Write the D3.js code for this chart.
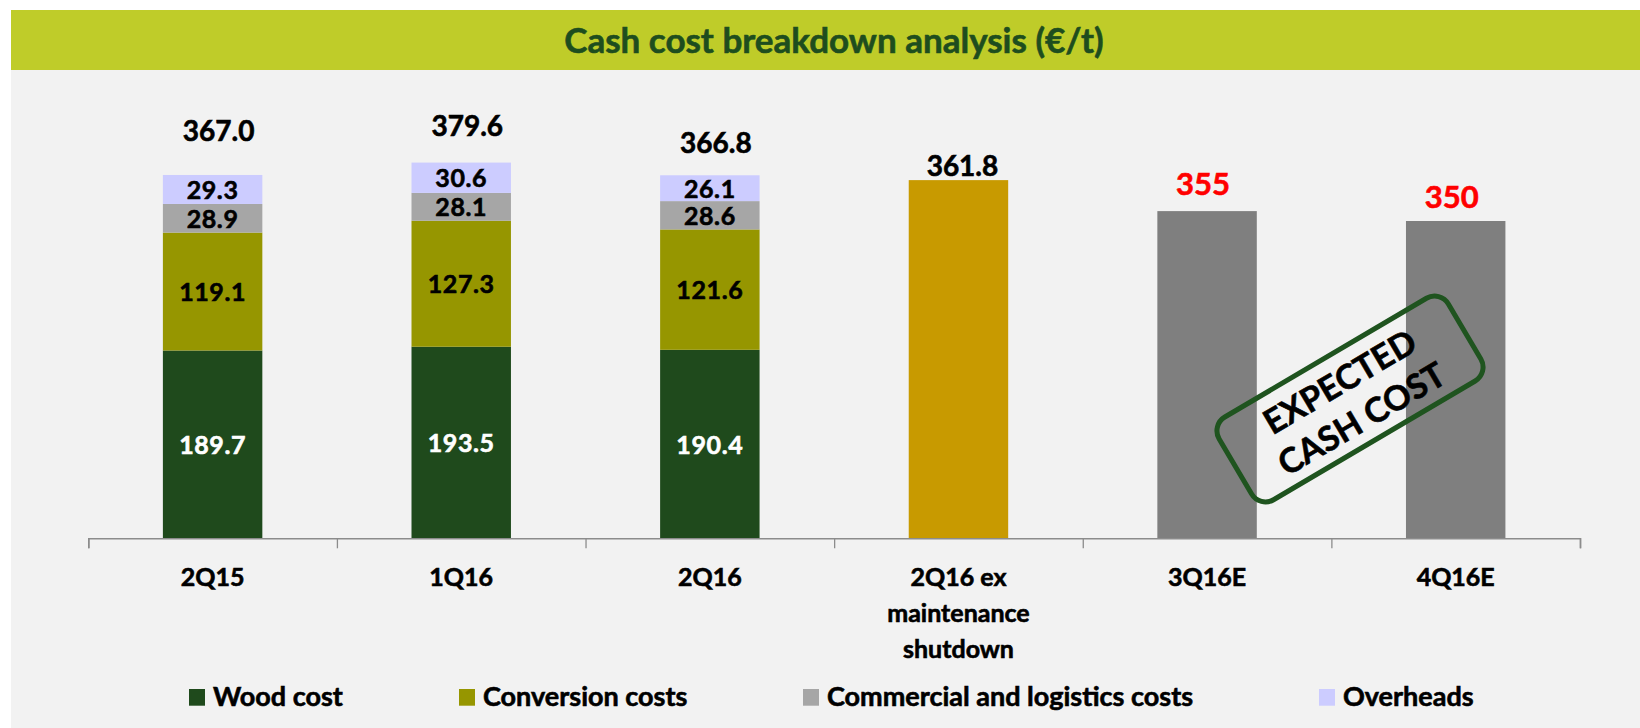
<!DOCTYPE html>
<html>
<head>
<meta charset="utf-8">
<script src="https://cdn.jsdelivr.net/npm/d3@7"></script>
<style>
  html, body { margin: 0; padding: 0; background: #ffffff; }
  svg { display: block; }
  text { font-family: Lato, "Open Sans", sans-serif; font-weight: 700; }
</style>
</head>
<body>
<svg id="chart" width="1640" height="728"></svg>
<script>
// ---------------- data ----------------
const categories = ["2Q15", "1Q16", "2Q16", "2Q16 ex maintenance shutdown", "3Q16E", "4Q16E"];
const categoryLines = [["2Q15"], ["1Q16"], ["2Q16"], ["2Q16 ex", "maintenance", "shutdown"], ["3Q16E"], ["4Q16E"]];
const stackedCategories = ["2Q15", "1Q16", "2Q16"];
const woodCost = [189.7, 193.5, 190.4];
const conversionCosts = [119.1, 127.3, 121.6];
const commercialLogistics = [28.9, 28.1, 28.6];
const overheads = [29.3, 30.6, 26.1];
const totalLabels = ["367.0", "379.6", "366.8"];
const exMaintenanceCategory = "2Q16 ex maintenance shutdown";
const exMaintenanceValue = 361.8;
const exMaintenanceLabel = "361.8";
const expectedCategories = ["3Q16E", "4Q16E"];
const expectedBarValues = [330.5, 320.5];   // drawn bar heights
const expectedLabels = ["355", "350"];
const seriesNames = ["Wood cost", "Conversion costs", "Commercial and logistics costs", "Overheads"];
const title = "Cash cost breakdown analysis (€/t)";
const stampLines = ["EXPECTED", "CASH COST"];

// ---------------- styles ----------------
const seriesColors = ["#1f4a1c", "#969600", "#a6a6a6", "#ccccff"];
const segmentTextColors = ["#ffffff", "#000000", "#000000", "#000000"];
const exColor = "#c89a00";
const expectedColor = "#7f7f7f";

const svg = d3.select("#chart");
const W = 1640, H = 728;

function heavy(sel, color) {
  return sel.attr("fill", color).attr("stroke", color).attr("stroke-width", 0.6).attr("paint-order", "stroke");
}

svg.append("rect").attr("x", 0).attr("y", 0).attr("width", W).attr("height", H).attr("fill", "#ffffff");
svg.append("rect").attr("x", 11).attr("y", 10).attr("width", W - 11).attr("height", H - 10).attr("fill", "#f2f2f2");
svg.append("rect").attr("x", 11).attr("y", 10).attr("width", W - 11).attr("height", 60).attr("fill", "#bfcc29");
heavy(svg.append("text").attr("x", 834).attr("y", 53).attr("text-anchor", "middle")
  .attr("font-size", 35), "#1e4d1e").text(title);

// ---------------- scales ----------------
const axisY = 538.3;
const x = d3.scaleBand().domain(categories).range([88.3, 1580]).paddingInner(0.6).paddingOuter(0.3);
const y = d3.scaleLinear().domain([0, 400]).range([axisY, axisY - 396]);

// ---------------- stacked bars ----------------
const rows = stackedCategories.map((c, i) => ({
  cat: c, s0: woodCost[i], s1: conversionCosts[i], s2: commercialLogistics[i], s3: overheads[i]
}));
const stack = d3.stack().keys(["s0", "s1", "s2", "s3"]);
const layers = stack(rows);

layers.forEach((layer, li) => {
  const g = svg.append("g");
  g.selectAll("rect").data(layer).join("rect")
    .attr("x", d => x(d.data.cat))
    .attr("width", x.bandwidth())
    .attr("y", d => y(d[1]))
    .attr("height", d => y(d[0]) - y(d[1]))
    .attr("fill", seriesColors[li]);
  heavy(g.selectAll("text").data(layer).join("text")
    .attr("x", d => x(d.data.cat) + x.bandwidth() / 2)
    .attr("y", d => (y(d[0]) + y(d[1])) / 2 + 9.5)
    .attr("text-anchor", "middle")
    .attr("font-size", 25)
    .attr("letter-spacing", 0.6), segmentTextColors[li])
    .text(d => (d[1] - d[0]).toFixed(1));
});

// totals above stacked bars
const totalOffsets = [34, 27, 22];
heavy(svg.append("g").selectAll("text").data(rows).join("text")
  .attr("x", d => x(d.cat) + x.bandwidth() / 2 + 6)
  .attr("y", (d, i) => y(d.s0 + d.s1 + d.s2 + d.s3) - totalOffsets[i])
  .attr("text-anchor", "middle")
  .attr("font-size", 28), "#000000")
  .text((d, i) => totalLabels[i]);

// ex maintenance bar
svg.append("rect")
  .attr("x", x(exMaintenanceCategory)).attr("width", x.bandwidth())
  .attr("y", y(exMaintenanceValue)).attr("height", y(0) - y(exMaintenanceValue))
  .attr("fill", exColor);
heavy(svg.append("text")
  .attr("x", x(exMaintenanceCategory) + x.bandwidth() / 2 + 4)
  .attr("y", y(exMaintenanceValue) - 4)
  .attr("text-anchor", "middle").attr("font-size", 28), "#000000")
  .text(exMaintenanceLabel);

// expected bars
const expRows = expectedCategories.map((c, i) => ({ cat: c, v: expectedBarValues[i], label: expectedLabels[i] }));
const expOffsets = [16, 13];
svg.append("g").selectAll("rect").data(expRows).join("rect")
  .attr("x", d => x(d.cat)).attr("width", x.bandwidth())
  .attr("y", d => y(d.v)).attr("height", d => y(0) - y(d.v))
  .attr("fill", expectedColor);
heavy(svg.append("g").selectAll("text").data(expRows).join("text")
  .attr("x", d => x(d.cat) + x.bandwidth() / 2 - 4)
  .attr("y", (d, i) => y(d.v) - expOffsets[i])
  .attr("text-anchor", "middle").attr("font-size", 31), "#ff0000")
  .text(d => d.label);

// ---------------- axis ----------------
const axisG = svg.append("g").attr("transform", `translate(0,${axisY})`);
const bScale = d3.scaleLinear().domain([0, categories.length]).range([x.range()[0], x.range()[1]]);
axisG.call(d3.axisBottom(bScale).tickValues(d3.range(categories.length + 1)).tickSize(10).tickFormat(""));
axisG.select(".domain").attr("stroke", "#8c8c8c").attr("stroke-width", 1.6);
axisG.selectAll(".tick line").attr("stroke", "#8c8c8c").attr("stroke-width", 1.3);

// category labels
const catG = svg.append("g");
categories.forEach((c, i) => {
  const t = heavy(catG.append("text")
    .attr("x", x(c) + x.bandwidth() / 2)
    .attr("y", 586)
    .attr("text-anchor", "middle").attr("font-size", 25), "#000000");
  categoryLines[i].forEach((line, j) => {
    t.append("tspan").attr("x", x(c) + x.bandwidth() / 2).attr("dy", j === 0 ? 0 : 35.8).text(line);
  });
});

// ---------------- legend ----------------
const legendX = [189, 459, 803, 1319];
const legG = svg.append("g");
seriesNames.forEach((name, i) => {
  legG.append("rect").attr("x", legendX[i]).attr("y", 689).attr("width", 16).attr("height", 16.7)
    .attr("fill", seriesColors[i]);
  heavy(legG.append("text").attr("x", legendX[i] + 24).attr("y", 706)
    .attr("font-size", 27), "#000000").text(name);
});

// ---------------- stamp ----------------
const stamp = svg.append("g").attr("transform", "translate(1350,399) rotate(-30.5)");
stamp.append("rect").attr("x", -133).attr("y", -48).attr("width", 266).attr("height", 96)
  .attr("rx", 16).attr("ry", 16).attr("fill", "none").attr("stroke", "#1f541f").attr("stroke-width", 5);
heavy(stamp.append("text").attr("x", 0).attr("y", -20 + 12).attr("text-anchor", "middle")
  .attr("font-size", 34), "#000000").text(stampLines[0]);
heavy(stamp.append("text").attr("x", 0).attr("y", 23 + 12).attr("text-anchor", "middle")
  .attr("font-size", 34), "#000000").text(stampLines[1]);
</script>
</body>
</html>
